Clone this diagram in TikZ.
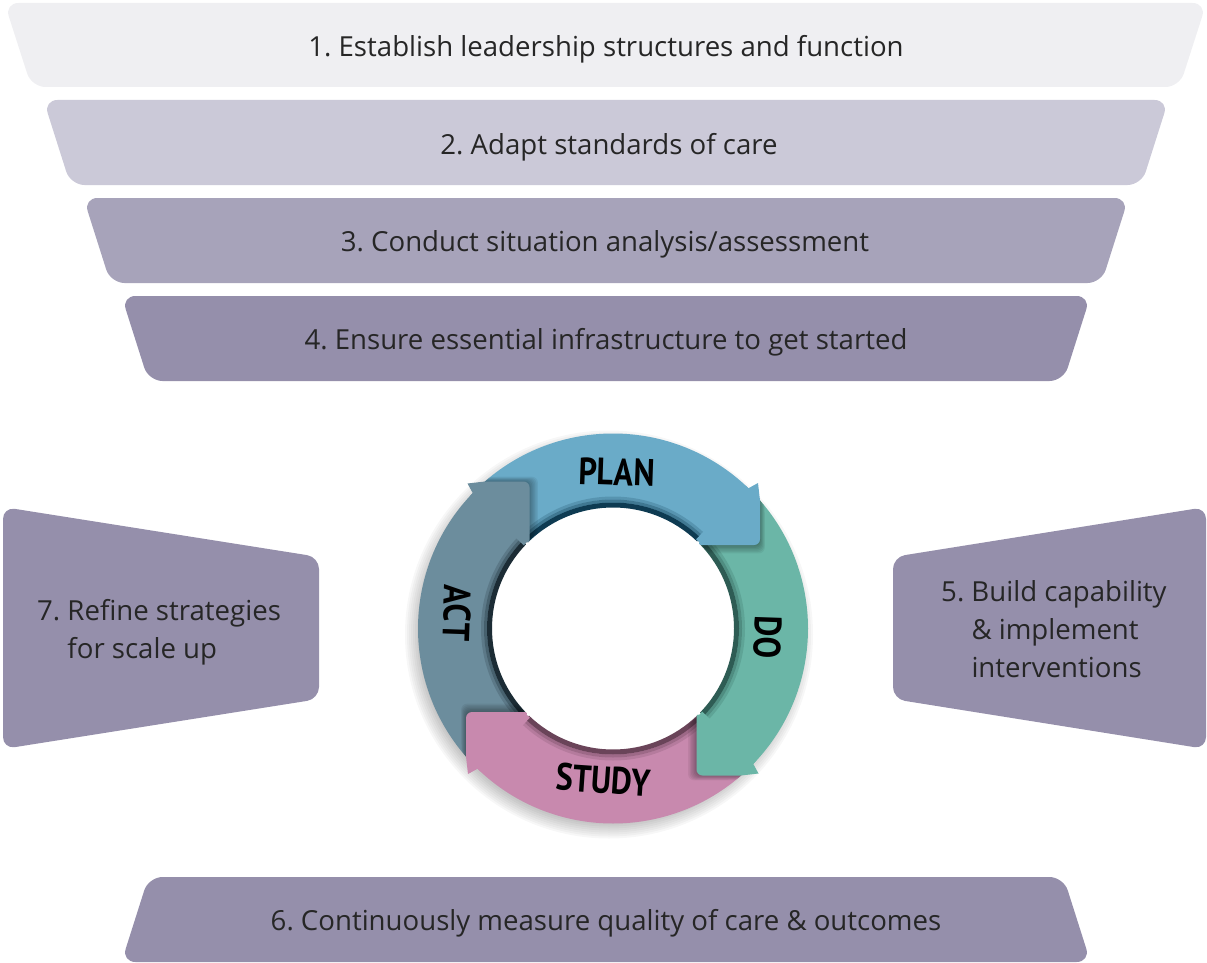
\documentclass[tikz,border=0pt]{standalone}
\usepackage{fontspec}
\setmainfont{Open Sans}
\newfontfamily\pdcafont{PT Sans}
\frenchspacing
\definecolor{txt}{HTML}{262626}
\definecolor{barA}{HTML}{EFEFF2}
\definecolor{barB}{HTML}{CBC9D8}
\definecolor{barC}{HTML}{A7A3BA}
\definecolor{mauve}{HTML}{958FAB}
\definecolor{plan}{HTML}{6AABC8}
\definecolor{do}{HTML}{6BB6A7}
\definecolor{study}{HTML}{C889AE}
\definecolor{act}{HTML}{6C8D9D}
\definecolor{planrim}{HTML}{0E3B52}
\definecolor{dorim}{HTML}{2E5C54}
\definecolor{studyrim}{HTML}{6A4459}
\definecolor{actrim}{HTML}{1C2C35}
\tikzset{
  lbl/.style={text=txt, font=\fontsize{27.6}{38}\selectfont, inner sep=0pt},
  sidelbl/.style={lbl, anchor=west, font=\fontsize{27.6}{38}\selectfont},
  pdcalbl/.style={text=black, font=\pdcafont\bfseries\fontsize{38}{40}\selectfont, inner sep=0pt},
  barshape/.style={rounded corners=14pt},
  sideshape/.style={fill=mauve, rounded corners=12pt}
}
\begin{document}
\begin{tikzpicture}[x=1pt,y=-1pt]
\useasboundingbox (0,0) rectangle (1207,963);
% ---- horizontal bars ----
\fill[barA, barshape] (4.5,3) -- (1206.5,3) -- (1179.5,87) -- (31.5,87) -- cycle;
\fill[barB, barshape] (43.5,100) -- (1168.5,100) -- (1141.5,185) -- (70.5,185) -- cycle;
\fill[barC, barshape] (83.5,198) -- (1128.5,198) -- (1101.5,283) -- (110.5,283) -- cycle;
\fill[mauve, barshape] (121.5,296) -- (1090.5,296) -- (1063.5,381) -- (148.5,381) -- cycle;
\fill[mauve, barshape] (148.5,877) -- (1063.5,877) -- (1090.5,962) -- (121.5,962) -- cycle;
\node[lbl] (s1) at (606,49) {1. Establish leadership structures and function};
\node[lbl] (s2) at (609,147) {2. Adapt standards of care};
\node[lbl] (s3) at (605,244) {3. Conduct situation analysis/assessment};
\node[lbl] (s4) at (606,342) {4. Ensure essential infrastructure to get started};
\node[lbl] (s6) at (606,923) {6. Continuously measure quality of care \& outcomes};
% ---- side boxes ----
\fill[sideshape] (3,507) -- (319,557) -- (319,699) -- (3,749) -- cycle;
\fill[sideshape] (1206,507) -- (893,557) -- (893,699) -- (1206,749) -- cycle;
\node[sidelbl] (s7) at (37,632) {\begin{tabular}{@{}l@{\ }l@{}}7. & Refine strategies\\ & for scale up\end{tabular}};
\node[sidelbl] (s5) at (941,632) {\begin{tabular}{@{}l@{\ }l@{}}5. & Build capability\\ & \& implement\\ & interventions\end{tabular}};
% ---- PDCA cycle ----
\begin{scope}[shift={(613,628.5)}, yscale=-1]
  \foreach \i in {0,...,9} \fill[black, opacity=0.03] (-4,-6) circle[radius=186+2*\i];
  \fill[white] (0,0) circle[radius=122];
  % bodies
  \foreach \rot/\col/\rim in {0/plan/planrim, 90/do/dorim, 180/study/studyrim, 270/act/actrim} {
    \begin{scope}[rotate=\rot]
      \fill[\col] (134:195) arc[start angle=134, end angle=46, radius=195] -- (46:122) arc[start angle=46, end angle=134, radius=122] -- cycle;
      \fill[\rim] (134:121) arc[start angle=134, end angle=46, radius=121] -- (46:126) arc[start angle=46, end angle=134, radius=126] -- cycle;
      \fill[\rim, opacity=0.45] (134:126) arc[start angle=134, end angle=46, radius=126] -- (46:129) arc[start angle=46, end angle=134, radius=129] -- cycle;
      \fill[\rim, opacity=0.2] (134:129) arc[start angle=134, end angle=46, radius=129] -- (46:132) arc[start angle=46, end angle=134, radius=132] -- cycle;
    \end{scope}
  }
  % head shadows, clipped to the ring
  \begin{scope}
    \clip (195,0) arc[start angle=0, end angle=360, radius=195] -- (122,0) arc[start angle=360, end angle=0, radius=122] -- cycle;
    \foreach \rot in {0,90,180,270} {
      \begin{scope}[rotate=\rot]
        \foreach \k in {1,...,6} {
          \fill[black, opacity=0.06, shift={(0.8*\k,-1.4*\k)}, rounded corners=6pt]
            (47:122) -- (47:195) -- (145,145.5) -- (147,128) -- (147,83.5) -- (83,83.5) -- cycle;
        }
      \end{scope}
    }
  \end{scope}
  % heads
  \foreach \rot/\col in {0/plan, 90/do, 180/study, 270/act} {
    \begin{scope}[rotate=\rot]
      \fill[\col] (47:122) -- (47:195) arc[start angle=47, end angle=46, radius=195] -- (145,145.5) -- (147,128) [rounded corners=6pt]-- (147,83.5) -- (83,83.5) [sharp corners]-- (45:122) arc[start angle=45, end angle=47, radius=122] -- cycle;
    \end{scope}
  }
\end{scope}
\node[pdcalbl, rotate=-2] (plan) at (617,472) {\scalebox{0.85}[1]{PLAN}};
\node[pdcalbl, rotate=-92] (do) at (768,637) {\scalebox{0.85}[1]{DO}};
\node[pdcalbl, rotate=-4] (study) at (603,780) {\scalebox{0.85}[1]{STUDY}};
\node[pdcalbl, rotate=-92] (act) at (457,613) {\scalebox{0.85}[1]{AC\kern1.5pt T}};
\end{tikzpicture}
\end{document}
